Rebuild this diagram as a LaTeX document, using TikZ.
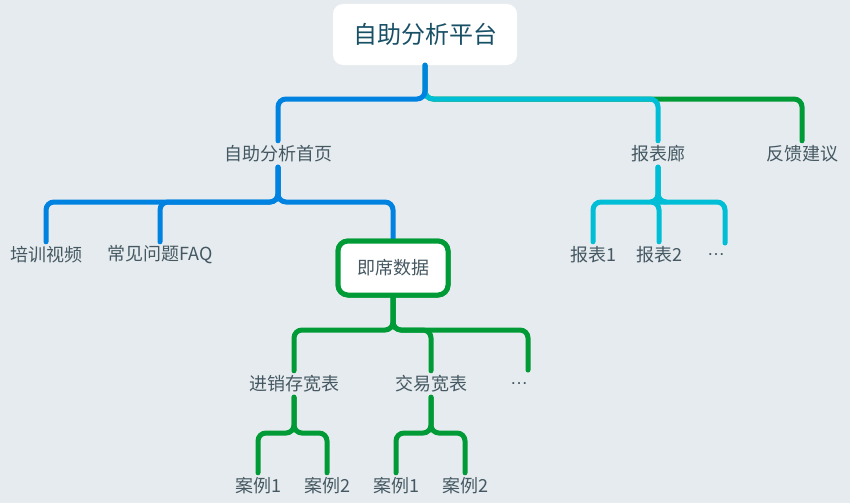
\documentclass[tikz,border=0pt]{standalone}
\usepackage{fontspec}
\setmainfont{Noto Sans CJK SC}
\newfontfamily\latinf{Liberation Sans}
\definecolor{bgc}{RGB}{229,235,238}
\definecolor{cblue}{RGB}{0,130,224}
\definecolor{ccyan}{RGB}{0,190,214}
\definecolor{cgreen}{RGB}{0,155,55}
\definecolor{ctext}{RGB}{69,88,98}
\definecolor{croot}{RGB}{24,80,102}
\begin{document}
\begin{tikzpicture}[x=1pt,y=-1pt,
  lbl/.style={inner sep=0pt,minimum height=26pt,text=ctext,font=\fontsize{18}{21}\selectfont},
  conn/.style={line width=5pt,line cap=round,rounded corners=8pt},
  rootbox/.style={fill=white,rounded corners=10pt,minimum width=184pt,minimum height=61pt,inner sep=0pt,text=croot,font=\fontsize{24}{28}\selectfont},
  hotbox/.style={fill=white,draw=cgreen,line width=5pt,rounded corners=10pt,minimum width=110pt,minimum height=54pt,inner sep=0pt,text=ctext,font=\fontsize{18}{21}\selectfont}]
\fill[bgc] (0,0) rectangle (850,503);
\useasboundingbox (0,0) rectangle (850,503);
% nodes
\node[rootbox] (root) at (425,34.5) {自助分析平台};
\node[lbl] (a) at (278,154) {自助分析首页};
\node[lbl] (b) at (658,154) {报表廊};
\node[lbl] (c) at (802,154) {反馈建议};
\node[lbl] (a1) at (46,255) {培训视频};
\node[lbl] (a2) at (160,255) {常见问题FAQ};
\node[hotbox] (a3) at (393,268) {即席数据};
\node[lbl] (b1) at (593,255) {报表1};
\node[lbl] (b2) at (659,255) {报表2};
\coordinate (b3top) at (725,243);
\node[lbl] (b3) at (716,255) {\latinf …};
\node[lbl] (d1) at (294,384) {进销存宽表};
\node[lbl] (d2) at (431,384) {交易宽表};
\coordinate (d3top) at (528,370);
\node[lbl] (d3) at (519,384) {\latinf …};
\node[lbl] (e1) at (258,486) {案例1};
\node[lbl] (e2) at (327,486) {案例2};
\node[lbl] (f1) at (396,486) {案例1};
\node[lbl] (f2) at (465,486) {案例2};
% root connectors
\draw[conn,cgreen] (root.south) -- (root.south |- 0,99) -- (c.north |- 0,99) -- (c.north);
\draw[conn,ccyan] (root.south) -- (root.south |- 0,99) -- (b.north |- 0,99) -- (b.north);
\draw[conn,cblue] (root.south) -- (root.south |- 0,99) -- (a.north |- 0,99) -- (a.north);
% a children
\foreach \t in {a1,a2,a3}
  \draw[conn,cblue] (a.south) -- (a.south |- 0,202) -- (\t.north |- 0,202) -- (\t.north);
% b children
\foreach \t in {b1,b2}
  \draw[conn,ccyan] (b.south) -- (b.south |- 0,202) -- (\t.north |- 0,202) -- (\t.north);
\draw[conn,ccyan] (b.south) -- (b.south |- 0,202) -- (b3top |- 0,202) -- (b3top);
% a3 children
\foreach \t in {d1,d2}
  \draw[conn,cgreen] (a3.south) -- (a3.south |- 0,330) -- (\t.north |- 0,330) -- (\t.north);
\draw[conn,cgreen] (a3.south) -- (a3.south |- 0,330) -- (d3top |- 0,330) -- (d3top);
% d1, d2 children
\foreach \t in {e1,e2}
  \draw[conn,cgreen] (d1.south) -- (d1.south |- 0,433) -- (\t.north |- 0,433) -- (\t.north);
\foreach \t in {f1,f2}
  \draw[conn,cgreen] (d2.south) -- (d2.south |- 0,433) -- (\t.north |- 0,433) -- (\t.north);
% redraw box on top
\node[hotbox] at (a3) {即席数据};
\end{tikzpicture}
\end{document}
